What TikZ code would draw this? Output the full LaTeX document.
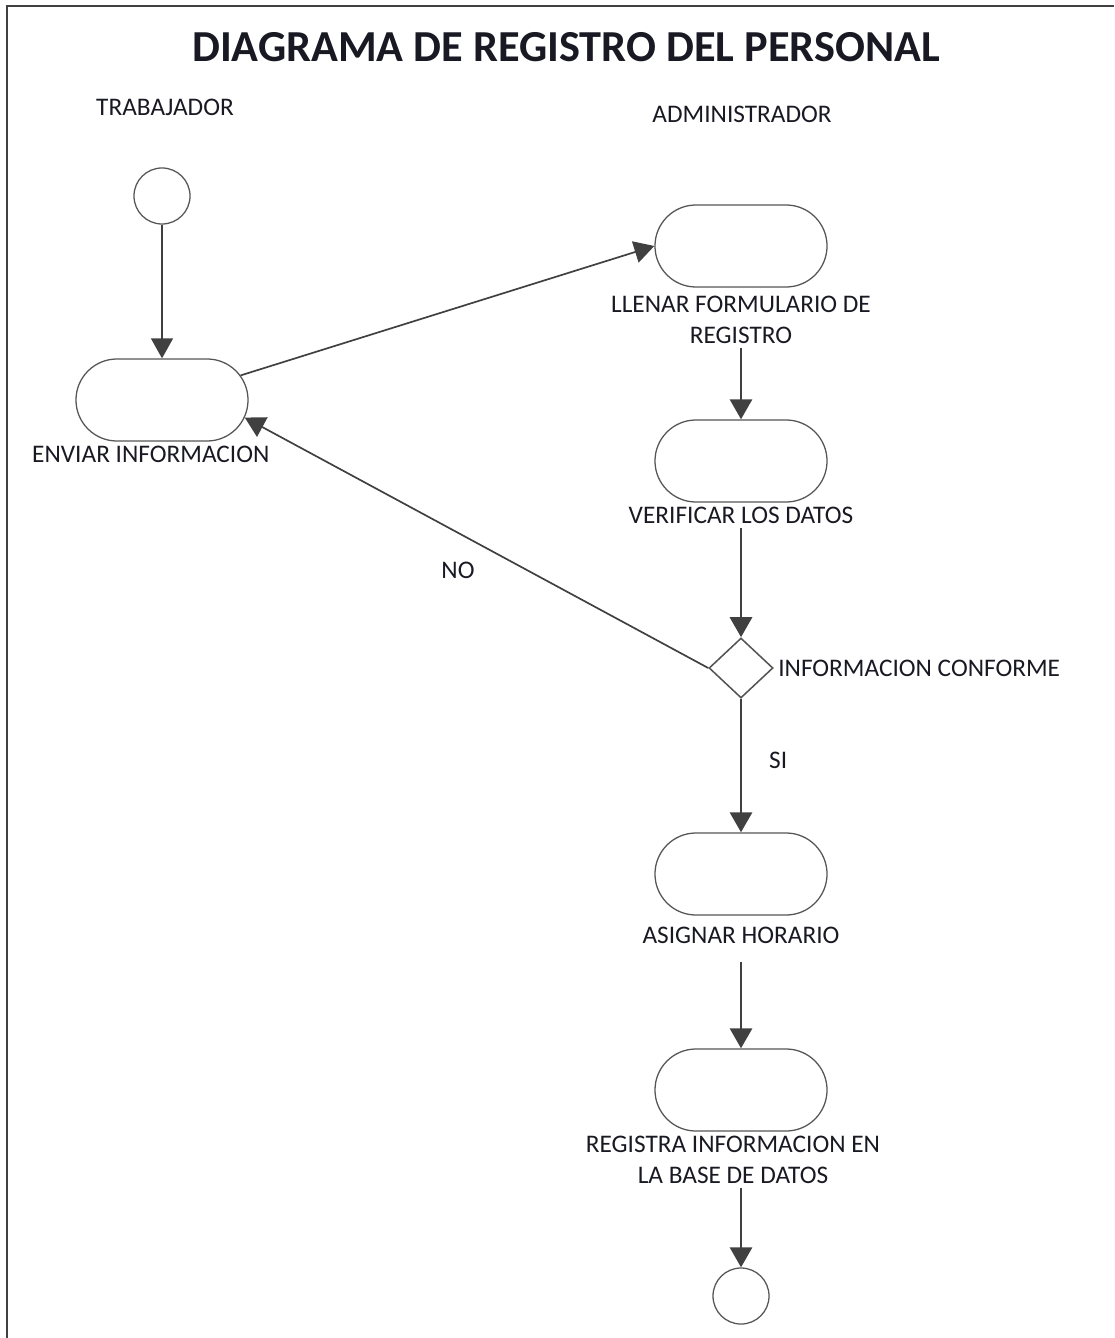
\documentclass[tikz,border=0pt]{standalone}
\usepackage{fontspec}
\setmainfont{Carlito}
\usetikzlibrary{positioning, arrows.meta, shapes.geometric, shapes.misc}
\definecolor{linegray}{RGB}{64,64,64}
\definecolor{boxgray}{RGB}{85,85,85}
\definecolor{textdark}{RGB}{25,25,35}

\begin{document}
\begin{tikzpicture}[
        x=0.025cm, y=-0.025cm,
        every node/.style={text=textdark, font=\fontsize{18}{22}\selectfont},
        activity/.style={rounded rectangle, draw=boxgray, line width=0.9pt, minimum width=4.3cm, minimum height=2.05cm, inner sep=0pt},
        startend/.style={circle, draw=boxgray, line width=0.9pt, minimum size=1.4cm, inner sep=0pt},
        decision/.style={diamond, draw=boxgray, line width=1.1pt, minimum width=1.6cm, minimum height=1.5cm, inner sep=0pt},
        lbl/.style={align=center, inner sep=3pt},
        arr/.style={-{Triangle[length=0.5cm, width=0.55cm]}, draw=linegray, line width=1.2pt},
        thickarr/.style={arr, line width=2.1pt},
    ]
        \useasboundingbox (0,0) rectangle (1114,1338);
        \draw[linegray, line width=1.5pt] (7,1338) -- (7,6) -- (1114,6);

        \node[font=\fontsize{31.5}{36}\selectfont\bfseries] (TITLE) at (566,47) {DIAGRAMA DE REGISTRO DEL PERSONAL};
        \node (TRAB) at (165,107) {TRABAJADOR};
        \node (ADM) at (742,114) {ADMINISTRADOR};

        \node[startend] (INI) at (162,196) {};
        \node[activity] (ENV) at (162,400) {};
        \node[lbl, below=0pt of ENV, xshift=-0.28cm] (ENVlbl) {ENVIAR INFORMACION};

        \node[activity] (LLE) at (741,246) {};
        \node[lbl, below=0.1cm of LLE] (LLElbl) {LLENAR FORMULARIO DE\\REGISTRO};
        \node[activity] (VER) at (741,461) {};
        \node[lbl, below=0pt of VER] (VERlbl) {VERIFICAR LOS DATOS};
        \node[decision] (DEC) at (741,668) {};
        \node[lbl, right=0pt of DEC] (DEClbl) {INFORMACION CONFORME};
        \node[activity] (ASG) at (741,874) {};
        \node[lbl, below=0.18cm of ASG] (ASGlbl) {ASIGNAR HORARIO};
        \node[activity] (REG) at (741,1090) {};
        \node[lbl, below=0pt of REG, xshift=-0.2cm] (REGlbl) {REGISTRA INFORMACION EN\\LA BASE DE DATOS};
        \node[startend] (FIN) at (741,1296) {};

        % flujo
        \draw[arr, line width=1pt] (INI) -- (ENV);
        \draw[arr] (ENV) -- (LLE.west);
        \draw[thickarr] (LLElbl) -- (VER);
        \draw[thickarr] (VERlbl) -- (DEC);
        \draw[arr] (DEC.west) -- (ENV.-12) node[pos=0.54, below=0.6cm] {NO};
        \draw[thickarr] (DEC) -- (ASG) node[pos=0.46, right=0.55cm] {SI};
        \draw[thickarr, shorten <=0.35cm] (ASGlbl) -- (REG);
        \draw[thickarr] (REGlbl.south -| REG) -- (FIN);
    \end{tikzpicture}
\end{document}
